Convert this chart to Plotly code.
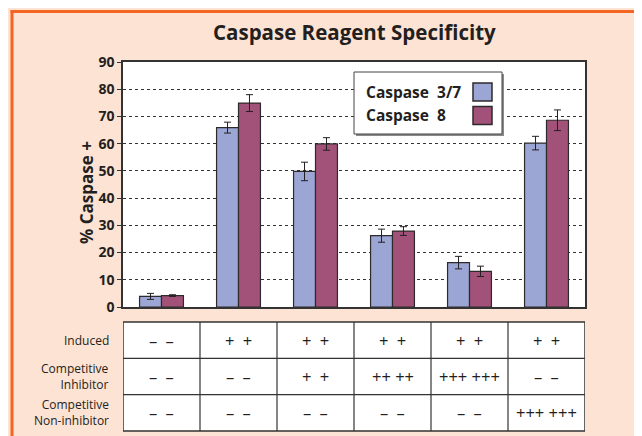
import plotly.graph_objects as go

# ---------------- data ----------------
groups = ["Uninduced", "Induced", "Induced + Inhibitor ++", "Induced + Inhibitor ++ ++",
          "Induced + Inhibitor +++", "Induced + Non-inhibitor"]
caspase37 = [3.9, 65.9, 49.8, 26.2, 16.3, 60.2]
caspase37_err = [1.1, 2.0, 3.4, 2.4, 2.3, 2.5]
caspase8 = [4.2, 74.9, 59.9, 27.9, 13.1, 68.6]
caspase8_err = [0.3, 3.1, 2.3, 1.6, 1.9, 3.8]
y_ticks = [0, 10, 20, 30, 40, 50, 60, 70, 80, 90]

row_labels = ["Induced", "Competitive<br>Inhibitor", "Competitive<br>Non-inhibitor"]
row_induced = ["– –", "+ +", "+ +", "+ +", "+ +", "+ +"]
row_inhibitor = ["– –", "– –", "+ +", "++ ++", "+++ +++", "– –"]
row_noninhib = ["– –", "– –", "– –", "– –", "– –", "+++ +++"]
table_rows = [row_induced, row_inhibitor, row_noninhib]

series_names = ["Caspase  3/7", "Caspase  8"]

# ---------------- style ----------------
OFF = 8  # page body margin
W, H = 642 - OFF, 436 - OFF
L, R, T, B = 123 - OFF, 585 - OFF, 62 - OFF, 307 - OFF
BLUE = "#9ca6d4"
RED = "#a25278"
DARK = "#231f20"
OUTLINE = "#2e2a2b"
PEACH = "#fde3d3"
ORANGE = "#f26522"
FONT = "Open Sans"


def px_x(px):
    return (px - OFF - L) / (R - L)


def px_y(py):
    return (B - (py - OFF)) / (B - T)


def cell_text(s):
    # single-symbol pairs are set with a wider gap in the original
    parts = s.split(" ")
    if all(len(p) == 1 for p in parts):
        return "\u2002".join(parts)
    return s


fig = go.Figure()
fig.add_trace(go.Bar(
    x=groups, y=caspase37, name=series_names[0],
    marker=dict(color=BLUE, line=dict(color=OUTLINE, width=1.2)),
    error_y=dict(type="data", array=caspase37_err, color=DARK, thickness=1, width=3.5),
))
fig.add_trace(go.Bar(
    x=groups, y=caspase8, name=series_names[1],
    marker=dict(color=RED, line=dict(color=OUTLINE, width=1.2)),
    error_y=dict(type="data", array=caspase8_err, color=DARK, thickness=1, width=3.5),
))

shapes = []
annotations = []

# orange frame (top and left visible)
shapes.append(dict(type="line", xref="paper", yref="paper",
                   x0=px_x(10.5), x1=px_x(680), y0=px_y(11.5), y1=px_y(11.5),
                   line=dict(color=ORANGE, width=3)))
shapes.append(dict(type="line", xref="paper", yref="paper",
                   x0=px_x(12), x1=px_x(12), y0=px_y(10.5), y1=px_y(480),
                   line=dict(color=ORANGE, width=3)))

# legend (swatches on the right)
lx0, lx1, ly0, ly1 = 354, 502, 72, 134
shapes.append(dict(type="rect", xref="paper", yref="paper",
                   x0=px_x(lx0 + 2), x1=px_x(lx1 + 2), y0=px_y(ly0 + 2), y1=px_y(ly1 + 2),
                   fillcolor="#8a8a8a", line=dict(width=0)))
shapes.append(dict(type="rect", xref="paper", yref="paper",
                   x0=px_x(lx0), x1=px_x(lx1), y0=px_y(ly0), y1=px_y(ly1),
                   fillcolor="white", line=dict(color="#444", width=1)))
for i, (name, col) in enumerate(zip(series_names, [BLUE, RED])):
    cy = 92 + i * 23.5
    shapes.append(dict(type="rect", xref="paper", yref="paper",
                       x0=px_x(473), x1=px_x(492), y0=px_y(cy - 9), y1=px_y(cy + 9),
                       fillcolor=col, line=dict(color=OUTLINE, width=1.5)))
    annotations.append(dict(text=f"<b>{name}</b>", xref="paper", yref="paper",
                            x=px_x(364), y=px_y(cy), xanchor="left", yanchor="middle",
                            showarrow=False, font=dict(family=FONT, size=15.5, color=DARK)))

# table under the chart
tb_top, tb_bot = 322, 431
row_h = (tb_bot - tb_top) / 3
shapes.append(dict(type="rect", xref="x", yref="paper",
                   x0=-0.5, x1=len(groups) - 0.5, y0=px_y(tb_bot), y1=px_y(tb_top),
                   fillcolor="white", line=dict(color="#333", width=1.5)))
for k in range(1, len(groups)):
    shapes.append(dict(type="line", xref="x", yref="paper",
                       x0=k - 0.5, x1=k - 0.5, y0=px_y(tb_bot), y1=px_y(tb_top),
                       line=dict(color="#333", width=1.2)))
for r in range(1, 3):
    yy = tb_top + r * row_h
    shapes.append(dict(type="line", xref="x", yref="paper",
                       x0=-0.5, x1=len(groups) - 0.5, y0=px_y(yy), y1=px_y(yy),
                       line=dict(color="#333", width=1.2)))
for r, (lab, row) in enumerate(zip(row_labels, table_rows)):
    cy = tb_top + (r + 0.5) * row_h
    annotations.append(dict(text=lab, xref="paper", yref="paper", x=px_x(111), y=px_y(cy),
                            xanchor="right", yanchor="middle", align="right", showarrow=False,
                            font=dict(family=FONT, size=12, color=DARK)))
    for j, txt in enumerate(row):
        annotations.append(dict(text=cell_text(txt), xref="x", yref="paper", x=j, y=px_y(cy),
                                xanchor="center", yanchor="middle", showarrow=False,
                                font=dict(family=FONT, size=16.5, color=DARK)))

# title
annotations.append(dict(text="<b>Caspase Reagent Specificity</b>", xref="paper", yref="paper",
                        x=0.5, y=px_y(32), xanchor="center", yanchor="middle", showarrow=False,
                        font=dict(family=FONT, size=20.5, color=DARK)))

# y-axis title
annotations.append(dict(text="<b>% Caspase +</b>", xref="paper", yref="paper",
                        x=px_x(86), y=px_y(193), xanchor="center", yanchor="middle",
                        textangle=-90, showarrow=False,
                        font=dict(family=FONT, size=17, color=DARK)))

fig.update_layout(
    width=W, height=H,
    margin=dict(l=L, r=W - R, t=T, b=H - B, pad=0),
    paper_bgcolor=PEACH, plot_bgcolor="white",
    barmode="group", bargap=0.43, bargroupgap=0,
    showlegend=False,
    shapes=shapes, annotations=annotations,
    font=dict(family=FONT, color=DARK),
)
fig.update_xaxes(showticklabels=False, ticks="", range=[-0.5, len(groups) - 0.5],
                 showline=True, linecolor="#333", linewidth=1.5, mirror=True, showgrid=False)
fig.update_yaxes(range=[0, 90], tickvals=y_ticks, ticktext=[f"<b>{v}</b>" for v in y_ticks],
                 ticks="outside", ticklen=4, tickcolor="#333",
                 tickfont=dict(family=FONT, size=14, color=DARK),
                 showline=True, linecolor="#333", linewidth=1.5, mirror=True,
                 showgrid=True, gridcolor="#333", griddash="dot", gridwidth=1, zeroline=False)

fig.write_html("out.html")
